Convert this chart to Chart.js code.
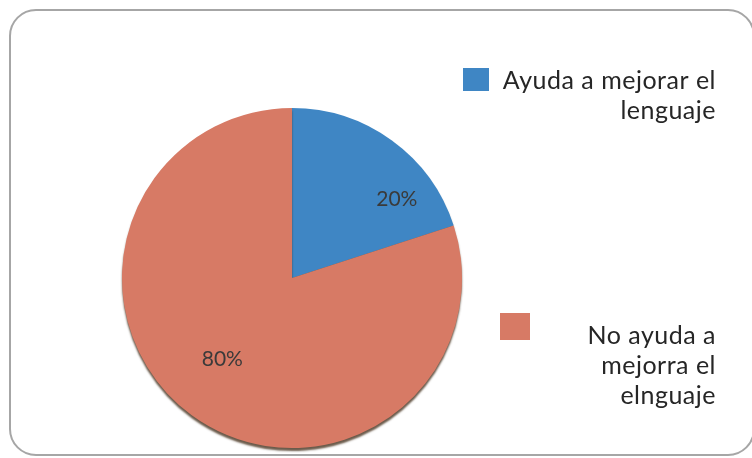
<!DOCTYPE html>
<html>
<head>
<meta charset="utf-8">
<script src="https://cdn.jsdelivr.net/npm/chart.js@4"></script>
<style>
  html, body { margin: 0; padding: 0; background: #fff; }
  #wrap { position: relative; width: 752px; height: 458px; }
</style>
</head>
<body>
<div id="wrap"><canvas id="pieChart" width="752" height="458"></canvas></div>
<script>
// data
const labels = ['Ayuda a mejorar el lenguaje', 'No ayuda a mejorra el elnguaje']
const legendLines = [['Ayuda a mejorar el', 'lenguaje'], ['No ayuda a', 'mejorra el', 'elnguaje']]
const values = [20, 80]
const colors = ['#3f86c4', '#d77a65']

// frame with rounded corners, like the spreadsheet chart box
const framePlugin = {
    id: 'frame',
    beforeDraw(chart){
        const ctx = chart.ctx
        ctx.save()
        ctx.fillStyle = '#fff'
        ctx.fillRect(0, 0, chart.width, chart.height)
        ctx.strokeStyle = '#a6a6a6'
        ctx.lineWidth = 2
        ctx.beginPath()
        ctx.roundRect(10, 10, chart.width - 8, chart.height - 13, 26)
        ctx.stroke()
        ctx.restore()
    }
}

// dark rim under the pie
const shadowPlugin = {
    id: 'pieShadow',
    beforeDatasetDraw(chart){
        const ctx = chart.ctx
        ctx.save()
        ctx.shadowColor = 'rgba(70, 50, 30, 0.8)'
        ctx.shadowBlur = 2
        ctx.shadowOffsetY = 3
    },
    afterDatasetDraw(chart){
        chart.ctx.restore()
    }
}

// percent labels inside the slices
const percentPlugin = {
    id: 'percentLabels',
    afterDatasetsDraw(chart){
        const ctx = chart.ctx
        const meta = chart.getDatasetMeta(0)
        const total = values.reduce((a, b) => a + b, 0)
        const dist = [0.77, 0.63]
        const shift = [0.30, 0.08]
        ctx.save()
        ctx.font = '21px Lato, "Open Sans", sans-serif'
        ctx.fillStyle = '#3a3a3a'
        ctx.textAlign = 'center'
        ctx.textBaseline = 'middle'
        meta.data.forEach(function(arc, i){
            const mid = (arc.startAngle + arc.endAngle) / 2 + shift[i]
            const r = arc.outerRadius * dist[i]
            const x = arc.x + Math.cos(mid) * r
            const y = arc.y + Math.sin(mid) * r
            ctx.fillText(Math.round(values[i] / total * 100) + '%', x, y)
        })
        ctx.restore()
    }
}

// legend on the right, text right aligned
const legendPlugin = {
    id: 'sideLegend',
    afterDraw(chart){
        const ctx = chart.ctx
        const boxes = [{x: 463, y: 68, size: 26}, {x: 500, y: 313, size: 30}]
        const firstLine = [81, 336]
        ctx.save()
        ctx.font = '25px Lato, "Open Sans", sans-serif'
        ctx.letterSpacing = '0.5px'
        ctx.textAlign = 'right'
        ctx.textBaseline = 'middle'
        legendLines.forEach(function(lines, i){
            ctx.fillStyle = colors[i]
            ctx.fillRect(boxes[i].x, boxes[i].y, boxes[i].size, boxes[i].size - 3)
            ctx.fillStyle = '#262626'
            lines.forEach(function(line, j){
                ctx.fillText(line, 716, firstLine[i] + j * 30)
            })
        })
        ctx.restore()
    }
}

const data = {
    labels: labels,
    datasets: [{
        data: values,
        backgroundColor: colors,
        borderWidth: 0
    }]
}

const config = {
    type: 'pie',
    data: data,
    options: {
        responsive: false,
        animation: false,
        layout: {
            padding: {left: 122, right: 290, top: 108, bottom: 10}
        },
        plugins: {
            legend: { display: false },
            tooltip: { enabled: false }
        }
    },
    plugins: [framePlugin, shadowPlugin, percentPlugin, legendPlugin]
}

const chart = new Chart(document.getElementById('pieChart'), config)
</script>
</body>
</html>
